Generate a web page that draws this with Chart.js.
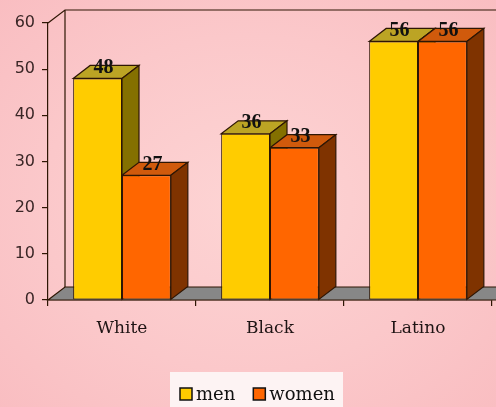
<!DOCTYPE html>
<html>
<head>
<meta charset="utf-8">
<title>men and women by group</title>
<script src="https://cdn.jsdelivr.net/npm/chart.js@4.4.1/dist/chart.umd.min.js"></script>
<style>
  html, body { margin: 0; padding: 0; }
  body {
    width: 496px; height: 407px; overflow: hidden;
    background: radial-gradient(ellipse 75% 75% at 50% 50%, #fdd4d4 0%, #fbc8ca 55%, #f9bcc0 100%);
  }
</style>
</head>
<body>
<canvas id="barchart" width="496" height="407"></canvas>
<script>
var groups = ['White', 'Black', 'Latino'];
var menValues = [48, 36, 56];
var womenValues = [27, 33, 56];
var seriesNames = ['men', 'women'];
var yTicks = [0, 10, 20, 30, 40, 50, 60];

// face colours for each series: front, top, side
var shades = [
  { front: '#ffcc00', top: '#bca424', side: '#847000' },
  { front: '#ff6600', top: '#d05a0c', side: '#7f3300' }
];
var edge = '#2e1604';
var depthX = 17, depthY = -13;

function poly(ctx, pts, fill) {
  ctx.beginPath();
  ctx.moveTo(pts[0][0], pts[0][1]);
  for (var i = 1; i < pts.length; i++) ctx.lineTo(pts[i][0], pts[i][1]);
  ctx.closePath();
  if (fill) { ctx.fillStyle = fill; ctx.fill(); }
  ctx.stroke();
}

var bars3d = {
  id: 'bars3d',
  beforeDatasetsDraw: function(chart) {
    var ctx = chart.ctx, a = chart.chartArea;
    ctx.save();
    ctx.lineWidth = 1.2;
    ctx.strokeStyle = edge;
    // back wall and floor
    ctx.beginPath();
    ctx.moveTo(a.left, a.top);
    ctx.lineTo(a.left + depthX, a.top + depthY);
    ctx.lineTo(chart.width + 5, a.top + depthY);
    ctx.moveTo(a.left + depthX, a.top + depthY);
    ctx.lineTo(a.left + depthX, a.bottom + depthY);
    ctx.stroke();
    poly(ctx, [[a.left, a.bottom], [a.left + depthX, a.bottom + depthY],
               [chart.width + 5, a.bottom + depthY], [chart.width + 5, a.bottom]], '#878787');

    // tops and sides, men before women so the nearer faces cover
    for (var i = 0; i < groups.length; i++) {
      for (var d = 0; d < chart.data.datasets.length; d++) {
        var el = chart.getDatasetMeta(d).data[i];
        var p = el.getProps(['x', 'y', 'base', 'width'], true);
        var l = p.x - p.width / 2, r = p.x + p.width / 2;
        poly(ctx, [[l, p.y], [l + depthX, p.y + depthY], [r + depthX, p.y + depthY], [r, p.y]], shades[d].top);
        poly(ctx, [[r, p.y], [r + depthX, p.y + depthY], [r + depthX, p.base + depthY], [r, p.base]], shades[d].side);
      }
    }
    ctx.restore();
  },
  afterDatasetsDraw: function(chart) {
    var ctx = chart.ctx;
    ctx.save();
    ctx.font = 'bold 20px "Liberation Serif"';
    ctx.fillStyle = '#111';
    ctx.textAlign = 'center';
    ctx.textBaseline = 'middle';
    chart.data.datasets.forEach(function(ds, d) {
      chart.getDatasetMeta(d).data.forEach(function(el, i) {
        ctx.fillText(ds.data[i], el.x + 6, el.y - 11);
      });
    });
    ctx.restore();
  },
  afterDraw: function(chart) {
    // legend box under the plot
    var ctx = chart.ctx;
    ctx.save();
    ctx.fillStyle = '#fdf3f3';
    ctx.fillRect(170, 372, 173, 40);
    ctx.font = '18px "DejaVu Serif"';
    ctx.textBaseline = 'alphabetic';
    ctx.textAlign = 'left';
    var x = 180;
    chart.data.datasets.forEach(function(ds, d) {
      ctx.fillStyle = shades[d].front;
      ctx.strokeStyle = '#111';
      ctx.lineWidth = 1.5;
      ctx.fillRect(x, 388, 12, 12);
      ctx.strokeRect(x, 388, 12, 12);
      ctx.fillStyle = '#111';
      ctx.fillText(ds.label, x + 16, 400);
      x += 16 + ctx.measureText(ds.label).width + 18;
    });
    ctx.restore();
  }
};

var ctx = document.getElementById('barchart').getContext('2d');
var myChart = new Chart(ctx, {
  type: 'bar',
  data: {
    labels: groups,
    datasets: [
      { label: seriesNames[0], data: menValues, backgroundColor: shades[0].front },
      { label: seriesNames[1], data: womenValues, backgroundColor: shades[1].front }
    ]
  },
  plugins: [bars3d],
  options: {
    responsive: false,
    animation: false,
    devicePixelRatio: 1,
    layout: { padding: { top: 23, left: 0, right: 4, bottom: 67 } },
    datasets: {
      bar: {
        borderColor: edge,
        borderWidth: 1,
        borderSkipped: false,
        categoryPercentage: 0.66,
        barPercentage: 1
      }
    },
    plugins: {
      legend: { display: false },
      tooltip: { enabled: false }
    },
    scales: {
      x: {
        grid: { drawOnChartArea: false, color: edge, tickLength: 6, lineWidth: 1.2 },
        border: { color: edge, width: 1.2 },
        ticks: { color: '#1e1414', padding: 12, font: { family: 'DejaVu Serif', size: 17 } },
        afterFit: function(s) { s.height = 40; s.paddingLeft = 0; s.paddingRight = 0; }
      },
      y: {
        min: yTicks[0],
        max: yTicks[yTicks.length - 1],
        afterBuildTicks: function(s) { s.ticks = yTicks.map(function(v) { return { value: v }; }); },
        grid: { drawOnChartArea: false, color: edge, tickLength: 6, lineWidth: 1.2 },
        border: { color: edge, width: 1.2 },
        ticks: { color: '#3a2626', padding: 7, font: { family: 'DejaVu Sans', size: 16 } },
        afterFit: function(s) { s.width = 48; s.paddingTop = 0; s.paddingBottom = 0; }
      }
    }
  }
});
</script>
</body>
</html>
